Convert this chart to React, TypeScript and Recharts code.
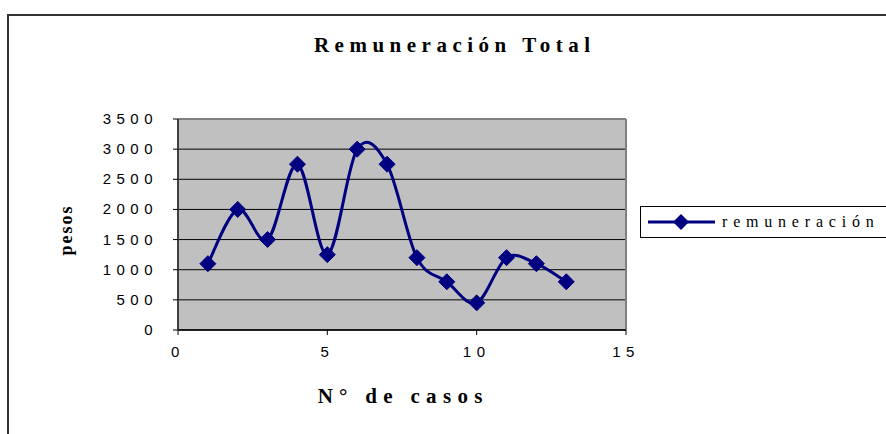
import {
  LineChart,
  Line,
  XAxis,
  YAxis,
  CartesianGrid,
  ReferenceLine,
} from "recharts";

// values
const caseNumbers = [1, 2, 3, 4, 5, 6, 7, 8, 9, 10, 11, 12, 13];
const remuneracion = [1100, 2000, 1500, 2750, 1250, 3000, 2750, 1200, 800, 450, 1200, 1100, 800];
const xTicks = [0, 5, 10, 15];
const yTicks = [0, 500, 1000, 1500, 2000, 2500, 3000, 3500];

const chartData = caseNumbers.map((n, i) => ({ caso: n, remuneracion: remuneracion[i] }));

const NAVY = "#000080";
const SERIF = "'Liberation Serif', 'Times New Roman', serif";
const SANS = "'Liberation Sans', Arial, sans-serif";

// Excel-style smoothed line (cardinal spline through every point)
const excelCurve = (context: any) => {
  let pts: number[][] = [];
  return {
    areaStart() {},
    areaEnd() {},
    lineStart() {
      pts = [];
    },
    lineEnd() {
      if (!pts.length) return;
      context.moveTo(pts[0][0], pts[0][1]);
      for (let i = 0; i < pts.length - 1; i++) {
        const p0 = pts[Math.max(i - 1, 0)];
        const p1 = pts[i];
        const p2 = pts[i + 1];
        const p3 = pts[Math.min(i + 2, pts.length - 1)];
        context.bezierCurveTo(
          p1[0] + (p2[0] - p0[0]) / 6,
          p1[1] + (p2[1] - p0[1]) / 6,
          p2[0] - (p3[0] - p1[0]) / 6,
          p2[1] - (p3[1] - p1[1]) / 6,
          p2[0],
          p2[1]
        );
      }
    },
    point(x: number, y: number) {
      pts.push([+x, +y]);
    },
  };
};

const Diamond = (props: any) => {
  const { cx, cy, index } = props;
  if (cx == null || cy == null) return null;
  return (
    <polygon
      key={`d-${index}`}
      points={`${cx},${cy - 8} ${cx + 8},${cy} ${cx},${cy + 8} ${cx - 8},${cy}`}
      fill={NAVY}
      stroke={NAVY}
    />
  );
};

const YTick = ({ x, y, payload }: any) => (
  <text x={x} y={y} dy={5} textAnchor="end" fill="#000" style={{ fontFamily: SANS, fontSize: 15, letterSpacing: 5.5 }}>
    {payload.value}
  </text>
);

const XTick = ({ x, y, payload }: any) => (
  <text x={x} y={y} dy={20} textAnchor="middle" fill="#000" style={{ fontFamily: SANS, fontSize: 15, letterSpacing: 5.5 }}>
    {payload.value}
  </text>
);

const LegendBox = () => (
  <div
    style={{
      position: "absolute",
      left: 640,
      top: 206,
      border: "1.5px solid #000",
      width: 260,
      height: 32,
      boxSizing: "border-box",
      display: "flex",
      alignItems: "center",
      background: "#fff",
    }}
  >
    <svg width={70} height={20} style={{ marginLeft: 7 }}>
      <line x1={0} x2={67} y1={10} y2={10} stroke={NAVY} strokeWidth={3} />
      <polygon points="33,2 41,10 33,18 25,10" fill={NAVY} />
    </svg>
    <span style={{ fontFamily: SERIF, fontSize: 16, letterSpacing: 5.8, marginLeft: 4, color: "#000" }}>
      remuneración
    </span>
  </div>
);

export default function App() {
  return (
    <div
      style={{
        position: "absolute",
        left: 0,
        top: 0,
        width: 886,
        height: 434,
        overflow: "hidden",
        background: "#fff",
      }}
    >
      <div
        style={{
          position: "absolute",
          left: 7,
          top: 14,
          width: 1000,
          height: 1000,
          border: "2px solid #333",
        }}
      />
      <LineChart
        width={886}
        height={434}
        data={chartData}
        margin={{ top: 119, right: 260, bottom: 74, left: 118 }}
      >
        <CartesianGrid vertical={false} stroke="#000" fill="#C0C0C0" />
        <XAxis
          dataKey="caso"
          type="number"
          domain={[0, 15]}
          ticks={xTicks}
          height={30}
          tickSize={5}
          tick={<XTick />}
          axisLine={{ stroke: "#000", strokeWidth: 1.5 }}
          tickLine={{ stroke: "#000" }}
        />
        <YAxis
          type="number"
          domain={[0, 3500]}
          ticks={yTicks}
          width={60}
          tickSize={5}
          tickMargin={15}
          tick={<YTick />}
          axisLine={{ stroke: "#404040", strokeWidth: 2 }}
          tickLine={{ stroke: "#000" }}
        />
        <ReferenceLine y={3500} stroke="#808080" strokeWidth={2} />
        <ReferenceLine x={15} stroke="#808080" strokeWidth={2} />
        <Line
          dataKey="remuneracion"
          name="remuneración"
          type={excelCurve as any}
          stroke={NAVY}
          strokeWidth={3}
          dot={<Diamond />}
          activeDot={false}
          isAnimationActive={false}
        />
      </LineChart>
      <LegendBox />
      <div
        style={{
          position: "absolute",
          left: 152,
          width: 600,
          top: 35,
          textAlign: "center",
          fontFamily: SERIF,
          fontWeight: "bold",
          fontSize: 21,
          lineHeight: "21px",
          letterSpacing: 5.5,
          paddingLeft: 5.5,
          boxSizing: "border-box",
        }}
      >
        Remuneración Total
      </div>
      <div
        style={{
          position: "absolute",
          left: 100,
          width: 600,
          top: 386,
          textAlign: "center",
          fontFamily: SERIF,
          fontWeight: "bold",
          fontSize: 21,
          lineHeight: "21px",
          letterSpacing: 6.3,
          paddingLeft: 6.3,
          boxSizing: "border-box",
        }}
      >
        N° de casos
      </div>
      <div
        style={{
          position: "absolute",
          left: 66,
          top: 230,
          transform: "translate(-50%, -50%) rotate(-90deg)",
          fontFamily: SERIF,
          fontWeight: "bold",
          fontSize: 18,
          lineHeight: "18px",
          letterSpacing: 2,
          whiteSpace: "nowrap",
        }}
      >
        pesos
      </div>
    </div>
  );
}
